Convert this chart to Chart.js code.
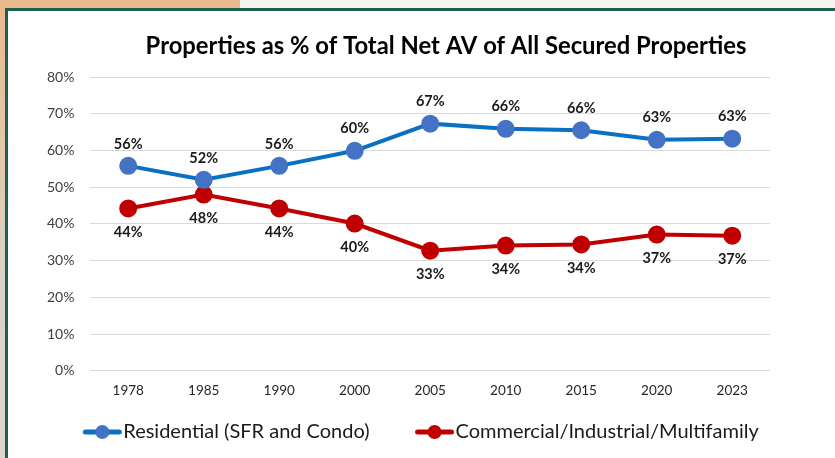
<!DOCTYPE html>
<html>
<head>
<meta charset="utf-8">
<script src="https://cdn.jsdelivr.net/npm/chart.js@4.4.1/dist/chart.umd.min.js"></script>
<style>
  html, body { margin: 0; padding: 0; width: 835px; height: 458px; overflow: hidden; }
  body { background: #f3f3f1; position: relative; }
  #side { position: absolute; left: 0; top: 0; width: 8px; height: 458px;
          background: linear-gradient(180deg, #e9b98c 0%, #e4c7a6 30%, #d9d2c8 60%, #ddd6cc 100%); }
  #topstrip { position: absolute; left: 0; top: 0; width: 240px; height: 9px; background: #e8b98c; }
  #frame { position: absolute; left: 5px; top: 8px; width: 835px; height: 460px;
           border-left: 3px solid #1d5f52; border-top: 3px solid #1d5f52; background: #fff; }
  #wrap { position: absolute; left: 8px; top: 11px; width: 827px; height: 447px; }
</style>
</head>
<body>
<div id="side"></div>
<div id="topstrip"></div>
<div id="frame"></div>
<div id="wrap"><canvas id="chart"></canvas></div>
<script>
// Data
const years = ['1978', '1985', '1990', '2000', '2005', '2010', '2015', '2020', '2023'];
const residential = [55.8, 52.0, 55.8, 59.9, 67.3, 65.9, 65.5, 62.9, 63.2];
const commercial = [44.2, 48.0, 44.2, 40.1, 32.7, 34.1, 34.4, 37.1, 36.8];
const yTicks = [0, 10, 20, 30, 40, 50, 60, 70, 80];
const titleText = 'Properties as % of Total Net AV of All Secured Properties';

const FONT = 'Lato';
const LEGEND_BOX = 71;

// legend swatch: line with a dot, at the right end of a wide box (the empty part works as gap)
const swatch = (lineColor, dotColor) => {
    const c = document.createElement('canvas');
    c.width = LEGEND_BOX * 2; c.height = 16;
    const g = c.getContext('2d');
    const x1 = LEGEND_BOX * 1.5 + 8, x0 = x1 - 38;
    g.strokeStyle = lineColor;
    g.lineWidth = 5;
    g.lineCap = 'round';
    g.beginPath(); g.moveTo(x0 + 2, 8); g.lineTo(x1 - 2, 8); g.stroke();
    g.fillStyle = dotColor;
    g.beginPath(); g.arc((x0 + x1) / 2, 8, 7, 0, Math.PI * 2); g.fill();
    return c;
};

// titel op vaste plek, iets rechts van het midden zoals in het origineel
const titlePlugin = {
    id: 'fixedTitle',
    afterDraw(chart) {
        const ctx = chart.ctx;
        ctx.save();
        ctx.font = 'bold 23.8px ' + FONT;
        ctx.fillStyle = '#000';
        ctx.textAlign = 'center';
        ctx.textBaseline = 'middle';
        ctx.fillText(titleText, 438, 35);
        ctx.restore();
    }
};

// waarde-labels boven (residential) / onder (commercial) de punten
const valueLabels = {
    id: 'valueLabels',
    afterDatasetsDraw(chart) {
        const ctx = chart.ctx;
        ctx.save();
        ctx.font = 'bold 14.5px ' + FONT;
        ctx.fillStyle = '#1a1a1a';
        ctx.textAlign = 'center';
        ctx.textBaseline = 'middle';
        chart.data.datasets.forEach((ds, i) => {
            const meta = chart.getDatasetMeta(i);
            meta.data.forEach((pt, j) => {
                const dy = i === 0 ? -22 : 24;
                ctx.fillText(Math.round(ds.data[j]) + '%', pt.x, pt.y + dy);
            });
        });
        ctx.restore();
    }
};

new Chart(document.getElementById('chart'), {
    type: 'line',
    data: {
        labels: years,
        datasets: [{
            label: 'Residential (SFR and Condo)',
            data: residential,
            borderColor: '#0a70c2',
            backgroundColor: '#4472c4',
            pointBackgroundColor: '#4472c4',
            pointBorderColor: '#4472c4',
            borderWidth: 4,
            pointRadius: 7,
            tension: 0,
        }, {
            label: 'Commercial/Industrial/Multifamily',
            data: commercial,
            borderColor: '#c00000',
            backgroundColor: '#c00000',
            pointBackgroundColor: '#c00000',
            pointBorderColor: '#c00000',
            borderWidth: 4,
            pointRadius: 7,
            tension: 0,
        }]
    },
    options: {
        responsive: true, maintainAspectRatio: false,
        animation: false,
        layout: { padding: { top: 66, right: 65, left: 23, bottom: 6 } },
        plugins: {
            title: { display: false },
            tooltip: { enabled: false },
            legend: {
                position: 'bottom',
                labels: {
                    usePointStyle: true,
                    pointStyleWidth: LEGEND_BOX,
                    padding: 5,
                    color: '#1a1a1a',
                    font: { family: FONT, size: 20 },
                    generateLabels: (chart) => chart.data.datasets.map((ds, i) => ({
                        text: ds.label,
                        datasetIndex: i,
                        pointStyle: swatch(ds.borderColor, ds.pointBackgroundColor),
                        fillStyle: 'transparent',
                        strokeStyle: 'transparent',
                        lineWidth: 0,
                        fontColor: '#1a1a1a',
                    }))
                }
            }
        },
        scales: {
            y: {
                min: 0, max: 80,
                afterBuildTicks: (axis) => { axis.ticks = yTicks.map(v => ({ value: v })); },
                border: { display: false },
                grid: { color: '#d9d9d9', lineWidth: 1, drawTicks: false },
                ticks: {
                    padding: 16,
                    color: '#404040',
                    font: { family: FONT, size: 14 },
                    callback: (v) => v + '%'
                }
            },
            x: {
                offset: true,
                border: { display: false },
                grid: { display: false },
                afterFit: (axis) => { axis.height += 14; },
                ticks: {
                    padding: 4,
                    color: '#262626',
                    font: { family: FONT, size: 13.5 }
                }
            }
        }
    },
    plugins: [titlePlugin, valueLabels]
});
</script>
</body>
</html>
